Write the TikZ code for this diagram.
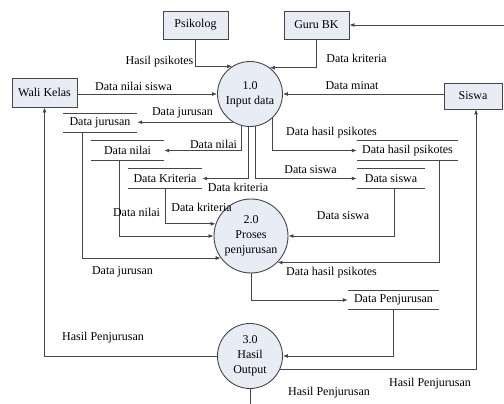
\documentclass[tikz,border=0pt]{standalone}
\usepackage{fontspec}
\setmainfont{Liberation Serif}
\usetikzlibrary{arrows.meta}
\definecolor{boxfill}{RGB}{232,236,245}
\definecolor{ln}{RGB}{70,70,70}
\begin{document}
\begin{tikzpicture}[x=1pt,y=-1pt,
  every node/.style={font=\fontsize{12}{15}\selectfont, text=black},
  ent/.style={draw=ln, line width=0.9pt, fill=boxfill, inner sep=0pt},
  proc/.style={draw=ln, line width=0.9pt, fill=boxfill, circle, inner sep=0pt, align=center},
  store/.style={inner sep=0pt, minimum height=19pt},
  lbl/.style={inner sep=0pt},
  con/.style={draw=ln, line width=0.8pt},
  arr/.style={con, -{Latex[length=5pt,width=4pt]}}]
\useasboundingbox (0,0) rectangle (504,404);

% external entities
\node[ent, minimum width=65pt, minimum height=28pt] (psi) at (195.5,25) {Psikolog};
\node[ent, minimum width=65pt, minimum height=28pt] (guru) at (316.5,25) {Guru BK};
\node[ent, minimum width=65pt, minimum height=29pt] (wali) at (44.5,92.5) {Wali Kelas};
\node[ent, minimum width=58pt, minimum height=26pt] (siswa) at (473,96) {Siswa};
\coordinate (edgeR) at (504,25);

% processes
\node[proc, minimum size=65pt] (c1) at (250,94) {1.0\\Input data};
\node[proc, minimum size=74pt] (c2) at (251,236) {2.0\\Proses\\penjurusan};
\node[proc, minimum size=65pt] (c3) at (250,356) {3.0\\Hasil\\Output};
\coordinate (bottom) at (250,404);

% data stores
\node[store, minimum width=74pt] (sj) at (100,123) {Data jurusan};
\node[store, minimum width=73pt] (sn) at (127.5,150.5) {Data nilai};
\node[store, minimum width=74pt] (sk) at (165,178.5) {Data Kriteria};
\node[store, minimum width=101pt] (sh) at (407.5,150.5) {Data hasil psikotes};
\node[store, minimum width=68pt] (ss) at (391,178.5) {Data siswa};
\node[store, minimum width=91pt, minimum height=18pt] (sp) at (393.5,300) {Data Penjurusan};
\foreach \n in {sj,sn,sk,sh,ss,sp}
  \draw[con] (\n.north west) -- (\n.north east) (\n.south west) -- (\n.south east);

% connectors
\draw[arr] (psi.south) |- (c1.123.8);
\draw[arr] (guru.south) |- (c1.53.1);
\draw[arr] (wali.east |- c1.west) -- (c1.west);
\draw[arr] (siswa.west |- c1.east) -- (c1.east);
\draw[arr] (edgeR) -- (guru.east);

\draw[arr] (c1.239.5) -- (c1.239.5 -| sj.east);
\draw[arr] (c1.255.7) |- (sn.east);
\draw[arr] (c1.268) |- (sk.east);
\draw[arr] (c1.280.6) |- (ss.west);
\draw[arr] (c1.312.6) |- (sh.west);

\draw[arr] ([xshift=-18pt]sj.south) |- (c2.216.5);
\draw[arr] ([xshift=-8.5pt]sn.south) |- (c2.west);
\draw[arr] (sk.south) |- (c2.161.1);
\draw[arr] ([xshift=3pt]ss.south) |- (c2.east);
\draw[arr] ([xshift=31.5pt]sh.south) |- (c2.315.4);

\draw[arr] (c2.south) |- (sp.west);
\draw[arr] (sp.south) |- (c3.east);
\draw[arr] (c3.west) -| (wali.south);
\draw[arr] (c3.336.4) -| ([xshift=3pt]siswa.south);
\draw[con] (c3.south) -- (bottom);

% labels
\node[lbl] (l1) at (159.5,62) {Hasil psikotes};
\node[lbl] (l2) at (356.5,58) {Data kriteria};
\node[lbl] (l3) at (133.5,86) {Data nilai siswa};
\node[lbl] (l4) at (352,86) {Data minat};
\node[lbl] (l5) at (182.5,113) {Data jurusan};
\node[lbl] (l6) at (213.5,144.5) {Data nilai};
\node[lbl] (l7) at (238,187.5) {Data kriteria};
\node[lbl] (l8) at (331.5,132.5) {Data hasil psikotes};
\node[lbl] (l9) at (310.5,170) {Data siswa};
\node[lbl] (l10) at (201.5,207) {Data kriteria};
\node[lbl] (l11) at (136.5,212) {Data nilai};
\node[lbl] (l12) at (343,216) {Data siswa};
\node[lbl] (l13) at (122.5,272) {Data jurusan};
\node[lbl] (l14) at (331.5,273) {Data hasil psikotes};
\node[lbl] (l15) at (103,338) {Hasil Penjurusan};
\node[lbl] (l16) at (430,384) {Hasil Penjurusan};
\node[lbl] (l17) at (329,393) {Hasil Penjurusan};
\end{tikzpicture}
\end{document}
